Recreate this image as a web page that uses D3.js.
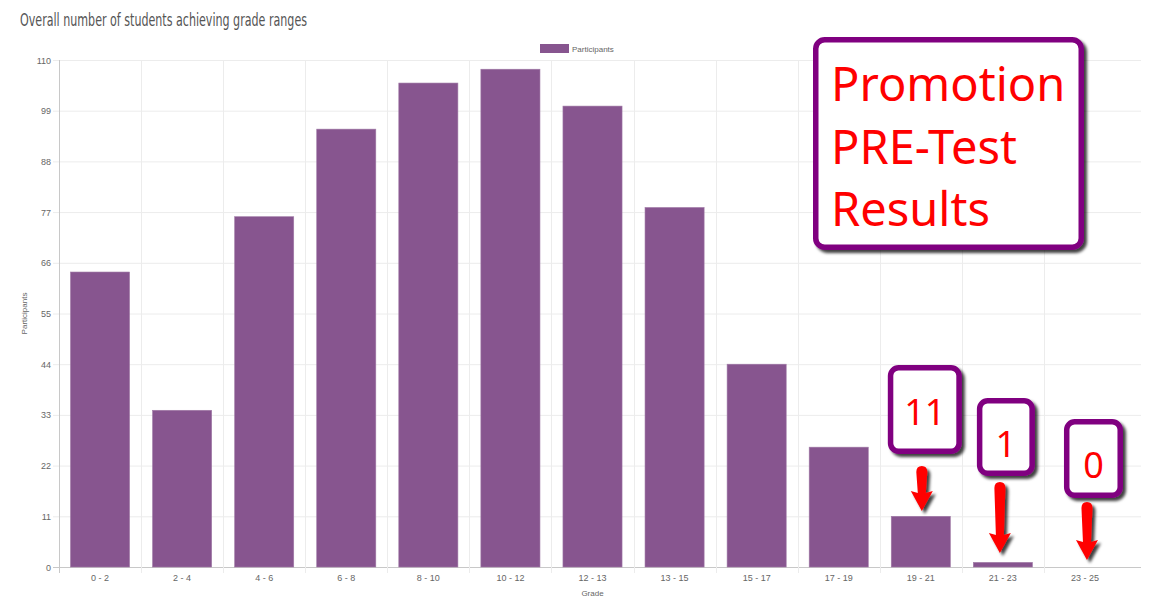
<!DOCTYPE html>
<html><head><meta charset="utf-8">
<script src="https://cdn.jsdelivr.net/npm/d3@7"></script>
<style>body{margin:0;background:#fff}svg{display:block}</style>
</head><body>
<svg id="c" width="1152" height="600"></svg>
<script>
const categories = ["0 - 2","2 - 4","4 - 6","6 - 8","8 - 10","10 - 12","12 - 13","13 - 15","15 - 17","17 - 19","19 - 21","21 - 23","23 - 25"];
const participants = [64, 34, 76, 95, 105, 108, 100, 78, 44, 26, 11, 1, 0];
const yTicks = [0, 11, 22, 33, 44, 55, 66, 77, 88, 99, 110];
const calloutCats = ["19 - 21", "21 - 23", "23 - 25"];
const calloutLabels = ["11", "1", "0"];
const bannerLines = ["Promotion", "PRE-Test", "Results"];

const svg = d3.select("#c");
const L = 59, R = 1126, GR = 1141, T = 60, B = 567;
const x = d3.scaleBand().domain(categories).range([L, R]).padding(0);
const y = d3.scaleLinear().domain([0, 110]).range([B, T]);

const defs = svg.append("defs");
const f = defs.append("filter").attr("id","sh").attr("x","-30%").attr("y","-20%").attr("width","170%").attr("height","150%");
f.append("feDropShadow").attr("dx",3).attr("dy",3).attr("stdDeviation",1.6).attr("flood-color","#000").attr("flood-opacity",0.75);

// title
svg.append("text").attr("x",20).attr("y",26)
  .attr("font-family","'Liberation Sans Narrow','DejaVu Sans Condensed',sans-serif")
  .attr("font-size",18).attr("fill","#555")
  .attr("textLength",287).attr("lengthAdjust","spacingAndGlyphs")
  .text("Overall number of students achieving grade ranges");

// horizontal grid
svg.append("g").selectAll("line").data(yTicks).join("line")
  .attr("x1",L-6).attr("x2",GR).attr("y1",d=>y(d)+0.5).attr("y2",d=>y(d)+0.5)
  .attr("stroke",d=>d===0?"#c8c8c8":"#ececec").attr("stroke-width",1);
// vertical grid (category boundaries)
const bounds = categories.map(c=>x(c));
svg.append("g").selectAll("line").data(bounds).join("line")
  .attr("x1",d=>Math.round(d)+0.5).attr("x2",d=>Math.round(d)+0.5).attr("y1",T).attr("y2",B+6)
  .attr("stroke",(d,i)=>i===0?"#c8c8c8":"#ececec");

// y labels
svg.append("g").selectAll("text").data(yTicks).join("text")
  .attr("x",L-8).attr("y",d=>y(d)+3.5).attr("text-anchor","end")
  .attr("font-family","'Liberation Sans',Arial,sans-serif").attr("font-size",9).attr("fill","#666")
  .text(d=>d);
// x labels
svg.append("g").selectAll("text").data(categories).join("text")
  .attr("x",d=>x(d)+x.bandwidth()/2).attr("y",B+14).attr("text-anchor","middle")
  .attr("font-family","'Liberation Sans',Arial,sans-serif").attr("font-size",9).attr("fill","#666")
  .text(d=>d);
// axis titles
svg.append("text").attr("transform",`translate(27,${(T+B)/2}) rotate(-90)`).attr("text-anchor","middle")
  .attr("font-family","'Liberation Sans',Arial,sans-serif").attr("font-size",8).attr("fill","#666").text("Participants");
svg.append("text").attr("x",(L+R)/2).attr("y",596).attr("text-anchor","middle")
  .attr("font-family","'Liberation Sans',Arial,sans-serif").attr("font-size",8).attr("fill","#666").text("Grade");

// bars
const bw = x.bandwidth()*0.72;
svg.append("g").selectAll("rect").data(categories.map((c,i)=>({c,v:participants[i]}))).join("rect")
  .attr("x",d=>x(d.c)+(x.bandwidth()-bw)/2).attr("width",bw)
  .attr("y",d=>y(d.v)).attr("height",d=>B-y(d.v))
  .attr("fill","#87558f").attr("stroke","#a07aa6").attr("stroke-width",0.6);

// legend
svg.append("rect").attr("x",540).attr("y",44).attr("width",29).attr("height",9).attr("fill","#87558f");
svg.append("text").attr("x",572).attr("y",51.5).attr("font-family","'Liberation Sans',Arial,sans-serif")
  .attr("font-size",8).attr("fill","#666").text("Participants");

// banner
const bg = svg.append("g");
bg.append("rect").attr("x",815.75).attr("y",39.75).attr("width",265.5).attr("height",207.5).attr("rx",9)
  .attr("fill","#fff").attr("stroke","#800080").attr("stroke-width",5.5).attr("filter","url(#sh)");
bg.selectAll("text").data(bannerLines).join("text")
  .attr("x",831).attr("y",(d,i)=>101+i*62.5)
  .attr("font-family","'Noto Sans','Open Sans',sans-serif").attr("font-size",47).attr("fill","#ff0000")
  .text(d=>d);

// callouts
const boxes = [
  {w:68.5, h:83.5, top:367.75, dx:4, ty:15},
  {w:52.5, h:72.5, top:400.75, dx:3, ty:20},
  {w:53.5, h:73.5, top:421.75, dx:8.5, ty:19.5}
];
const arrows = [
  {y1:467, y2:511, dx:1},
  {y1:483, y2:553, dx:-3},
  {y1:503, y2:560, dx:2}
];
calloutCats.forEach((c,i)=>{
  const cx = x(c)+x.bandwidth()/2 + boxes[i].dx;
  const b = boxes[i];
  const g = svg.append("g");
  g.append("rect").attr("x",cx-b.w/2).attr("y",b.top).attr("width",b.w).attr("height",b.h).attr("rx",8)
    .attr("fill","#fff").attr("stroke","#800080").attr("stroke-width",5.5).attr("filter","url(#sh)");
  g.append("text").attr("x",cx).attr("y",b.top-2.75+(b.h+5.5)/2+b.ty).attr("text-anchor","middle")
    .attr("font-family","'Noto Sans','Open Sans',sans-serif").attr("font-size",36).attr("fill","#ff0000")
    .text(calloutLabels[i]);
  const a = arrows[i];
  const ax = x(c)+x.bandwidth()/2 + a.dx;
  const hw = 11, hh = 18, sw = 5.5, sb = 4;
  const p = `M${ax-sw},${a.y1+5} Q${ax-sw},${a.y1-1} ${ax},${a.y1-1} Q${ax+sw},${a.y1-1} ${ax+sw},${a.y1+5} L${ax+sb},${a.y2-hh} L${ax+hw},${a.y2-hh-2} L${ax},${a.y2} L${ax-hw},${a.y2-hh-2} L${ax-sb},${a.y2-hh} Z`;
  g.append("path").attr("d",p).attr("fill","#ff0000").attr("filter","url(#sh)");
});
</script>
</body></html>
